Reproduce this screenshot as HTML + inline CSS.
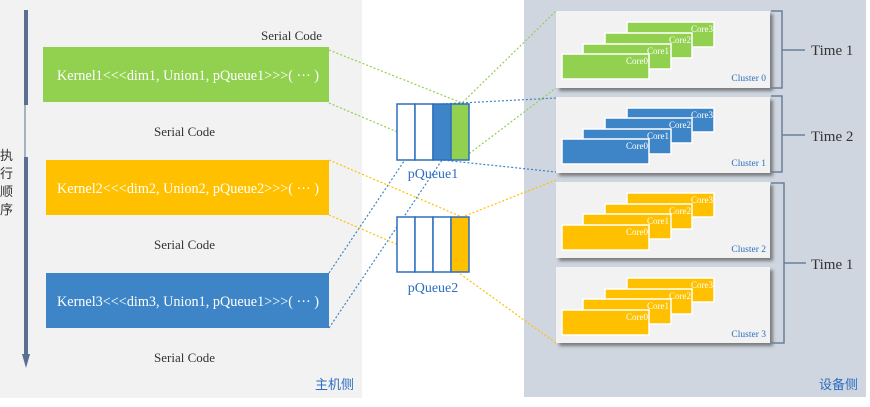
<!DOCTYPE html>
<html><head><meta charset="utf-8"><style>
body{margin:0;width:870px;height:402px;overflow:hidden;background:#fff;font-family:"Liberation Serif",serif;}
</style></head><body>
<svg width="870" height="402" xmlns="http://www.w3.org/2000/svg" font-family="Liberation Serif, serif">
<defs>
<filter id="sh" x="-5%" y="-5%" width="115%" height="125%"><feDropShadow dx="3" dy="3" stdDeviation="1.5" flood-color="#555" flood-opacity="0.7"/></filter>
</defs>
<rect x="0" y="0" width="362" height="398" fill="#f2f2f2"/>
<rect x="524" y="0" width="342" height="397" fill="#cfd6e0"/>
<rect x="24" y="10" width="4" height="95" fill="#5a7090"/>
<line x1="25" y1="105" x2="25" y2="157" stroke="#5a7090" stroke-width="1"/>
<rect x="24" y="157" width="4" height="200" fill="#5a7090"/>
<polygon points="22,354 30,354 26,368" fill="#5a7090"/>
<g font-family="Liberation Sans, Noto Sans CJK SC, sans-serif" font-size="13" fill="#333">
<text x="0" y="160">执</text><text x="0" y="178">行</text><text x="0" y="196">顺</text><text x="0" y="214">序</text>
</g>
<rect x="43" y="47" width="286" height="55" fill="#92d050"/>
<rect x="46" y="160" width="283" height="55" fill="#ffc000"/>
<rect x="46" y="273" width="283" height="55" fill="#3d85c6"/>
<g font-size="14.5" fill="#fff">
<text x="57" y="80" textLength="262" lengthAdjust="spacingAndGlyphs">Kernel1&lt;&lt;&lt;dim1, Union1, pQueue1&gt;&gt;&gt;( ··· )</text>
<text x="57" y="193" textLength="262" lengthAdjust="spacingAndGlyphs">Kernel2&lt;&lt;&lt;dim2, Union2, pQueue2&gt;&gt;&gt;( ··· )</text>
<text x="57" y="306" textLength="262" lengthAdjust="spacingAndGlyphs">Kernel3&lt;&lt;&lt;dim3, Union1, pQueue1&gt;&gt;&gt;( ··· )</text>
</g>
<g font-size="13" fill="#333">
<text x="261" y="40">Serial Code</text>
<text x="154" y="136">Serial Code</text>
<text x="154" y="249">Serial Code</text>
<text x="154" y="362">Serial Code</text>
</g>
<text x="315" y="389" font-family="Liberation Sans, Noto Sans CJK SC, sans-serif" font-size="13" fill="#2e6ec0">主机侧</text>
<text x="819" y="389" font-family="Liberation Sans, Noto Sans CJK SC, sans-serif" font-size="13" fill="#2e6ec0">设备侧</text>
<g fill="none" stroke-width="1.2" stroke-dasharray="2,2">
<path d="M329,50 L462,103 L556,11" stroke="#92d050"/>
<path d="M329,103 L440,150" stroke="#92d050"/>
<path d="M466,156 L556,88" stroke="#92d050"/>
<path d="M329,273 L433,118" stroke="#3d85c6"/>
<path d="M329,328 L442,160 L556,172" stroke="#3d85c6"/>
<path d="M442,104 L556,98" stroke="#3d85c6"/>
<path d="M329,160 L462,217 L556,180" stroke="#ffc000"/>
<path d="M329,215 L452,268 L556,343" stroke="#ffc000"/>
</g>
<g stroke="#2e6ec0" stroke-width="1.5">
<rect x="397" y="104" width="18" height="56" fill="#fff"/>
<rect x="415" y="104" width="18" height="56" fill="#fff"/>
<rect x="433" y="104" width="18" height="56" fill="#3d85c6"/>
<rect x="451" y="104" width="18" height="56" fill="#92d050"/>
<rect x="397" y="217" width="18" height="55" fill="#fff"/>
<rect x="415" y="217" width="18" height="55" fill="#fff"/>
<rect x="433" y="217" width="18" height="55" fill="#fff"/>
<rect x="451" y="217" width="18" height="55" fill="#ffc000"/>
</g>
<g font-size="14" fill="#2e6ec0" text-anchor="middle">
<text x="433" y="178">pQueue1</text>
<text x="433" y="292">pQueue2</text>
</g>
<rect x="556" y="11" width="214" height="77" fill="#f2f2f2" filter="url(#sh)"/>
<rect x="556" y="97" width="214" height="76" fill="#f2f2f2" filter="url(#sh)"/>
<rect x="556" y="182" width="214" height="76" fill="#f2f2f2" filter="url(#sh)"/>
<rect x="556" y="267" width="214" height="76" fill="#f2f2f2" filter="url(#sh)"/>
<g stroke="#fff" stroke-width="1.5">
<g fill="#92d050">
<rect x="627" y="22" width="87" height="25"/><rect x="605" y="33" width="87" height="25"/><rect x="583" y="44" width="88" height="25"/><rect x="562" y="54" width="87" height="25"/>
</g>
<g fill="#3d85c6">
<rect x="627" y="108" width="87" height="24"/><rect x="605" y="118" width="87" height="25"/><rect x="583" y="129" width="88" height="25"/><rect x="562" y="139" width="87" height="25"/>
</g>
<g fill="#ffc000">
<rect x="627" y="193" width="87" height="24"/><rect x="605" y="204" width="87" height="25"/><rect x="583" y="214" width="88" height="25"/><rect x="562" y="225" width="87" height="25"/>
<rect x="627" y="278" width="87" height="24"/><rect x="605" y="289" width="87" height="25"/><rect x="583" y="299" width="88" height="25"/><rect x="562" y="310" width="87" height="25"/>
</g>
</g>
<g font-size="9" fill="#fff" text-anchor="end">
<text x="713" y="32">Core3</text><text x="691" y="43">Core2</text><text x="669" y="54">Core1</text><text x="648" y="64">Core0</text>
<text x="713" y="118">Core3</text><text x="691" y="128">Core2</text><text x="669" y="139">Core1</text><text x="648" y="149">Core0</text>
<text x="713" y="203">Core3</text><text x="691" y="214">Core2</text><text x="669" y="224">Core1</text><text x="648" y="235">Core0</text>
<text x="713" y="288">Core3</text><text x="691" y="299">Core2</text><text x="669" y="309">Core1</text><text x="648" y="320">Core0</text>
</g>
<g font-size="9.5" fill="#2e6ec0" text-anchor="end">
<text x="766" y="81">Cluster 0</text><text x="766" y="166">Cluster 1</text><text x="766" y="252">Cluster 2</text><text x="766" y="337">Cluster 3</text>
</g>
<g fill="none" stroke="#6a7f9c" stroke-width="1.5">
<path d="M771,11 H782 V88 H771"/><path d="M782,50 H805"/>
<path d="M771,96 H782 V172 H771"/><path d="M782,135 H805"/>
<path d="M771,183 H784 V343 H771"/><path d="M784,263 H806"/>
</g>
<g font-size="15" fill="#333">
<text x="811" y="55">Time 1</text><text x="811" y="141">Time 2</text><text x="811" y="269">Time 1</text>
</g>
</svg>
</body></html>
